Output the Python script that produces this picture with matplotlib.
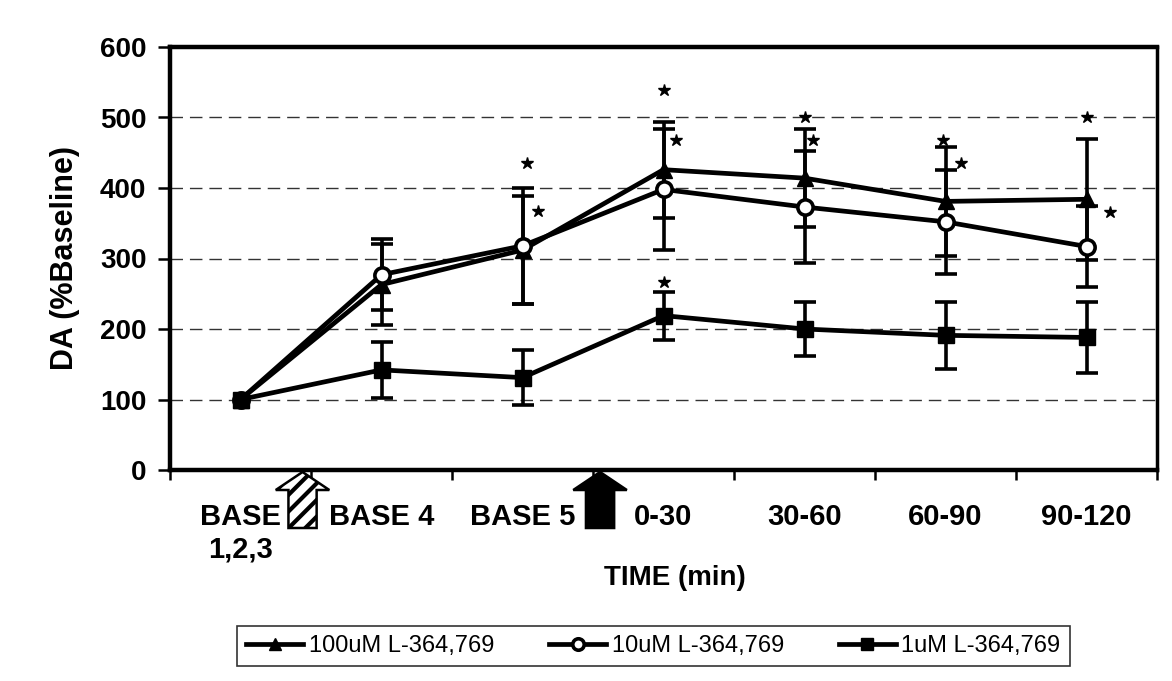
import matplotlib
matplotlib.use("Agg")
import matplotlib.pyplot as plt
import matplotlib.transforms as mtransforms
from matplotlib.patches import FancyArrow
import numpy as np

plt.rcParams['font.family'] = ['Liberation Sans', 'DejaVu Sans']
plt.rcParams['hatch.linewidth'] = 3.0

# ---------------- data ----------------
categories = ["BASE\n1,2,3", "BASE 4", "BASE 5", "0-30", "30-60", "60-90", "90-120"]
series_names = ["100uM L-364,769", "10uM L-364,769", "1uM L-364,769"]
m100 = [100, 263, 312, 426, 414, 381, 384]
e100 = [0, 57, 77, 68, 70, 77, 86]
m10 = [100, 277, 318, 398, 373, 352, 317]
e10 = [0, 50, 82, 86, 79, 74, 57]
m1 = [100, 142, 131, 219, 200, 191, 188]
e1 = [0, 40, 39, 34, 39, 48, 51]
# significance stars (category position, value)
star_x = [2.03, 2.11, 3.00, 3.09, 3.00, 4.00, 4.06, 4.98, 5.11, 6.00, 6.17]
star_y = [436, 367, 539, 468, 266, 500, 468, 468, 435, 500, 366]
yticks = [0, 100, 200, 300, 400, 500, 600]
# drug application arrows (category position)
arrow_hatched_x = 0.44
arrow_solid_x = 2.55

# ---------------- figure ----------------
W, H = 1172, 681
fig = plt.figure(figsize=(W / 100, H / 100), dpi=100)
ax = fig.add_axes([170 / W, 1 - 470 / H, (1157 - 170) / W, (470 - 47) / H])

x = np.arange(len(categories))
common = dict(color='black', lw=3.4, elinewidth=2.6, capsize=8, capthick=2.6,
              errorevery=(1, 1), clip_on=False)
c100 = ax.errorbar(x, m100, yerr=e100, marker='^', ms=12, mfc='black', mec='black',
                   label=series_names[0], zorder=3, **common)
c10 = ax.errorbar(x, m10, yerr=e10, marker='o', ms=11, mfc='white', mec='black', mew=2.6,
                  label=series_names[1], zorder=4, **common)
c1 = ax.errorbar(x, m1, yerr=e1, marker='s', ms=12, mfc='black', mec='black',
                 label=series_names[2], zorder=5, **common)

ax.plot(star_x, star_y, linestyle='none', marker='*', ms=9, color='black', zorder=6)

ax.set_xlim(-0.5, len(categories) - 0.5)
ax.set_ylim(0, 600)
ax.set_yticks(yticks)
ax.set_yticklabels([str(v) for v in yticks], fontsize=20, fontweight='bold')
ax.set_xticks(x)
ax.set_xticklabels(categories, fontsize=21, fontweight='bold', linespacing=1.2)
ax.set_xticks(np.arange(-0.5, len(categories)), minor=True)
ax.tick_params(axis='x', which='major', length=0, pad=24)
ax.tick_params(axis='x', which='minor', length=7, width=1.8, direction='out')
ax.tick_params(axis='y', length=9, width=1.8, direction='out', pad=8)

for v in yticks[1:-1]:
    ax.axhline(v, color='#333333', lw=1.0, ls=(0, (9, 5)), zorder=1)

for s in ax.spines.values():
    s.set_linewidth(3.2)
ax.spines['right'].set_linewidth(2.5)

ax.set_ylabel("DA (%Baseline)", fontsize=22, fontweight='bold', labelpad=14)
ax.set_xlabel("TIME (min)", fontsize=20, fontweight='bold')
ax.xaxis.set_label_coords((675 - 170) / (1157 - 170), -(578 - 470) / (470 - 47))
ax.xaxis.label.set_va('center')

# arrows below the axis (x in data, y in axes fraction)
trans = mtransforms.blended_transform_factory(ax.transData, ax.transAxes)
ax_h = 423.0
for xa, hatched in [(arrow_hatched_x, True), (arrow_solid_x, False)]:
    arr = FancyArrow(xa, -58 / ax_h, 0, 56 / ax_h, width=0.2, head_width=0.38,
                     head_length=18 / ax_h, length_includes_head=True,
                     transform=trans, clip_on=False,
                     facecolor='white' if hatched else 'black', edgecolor='black',
                     lw=1.8, hatch='//' if hatched else None, zorder=5)
    ax.add_patch(arr)

leg = ax.legend(handles=[c100[0], c10[0], c1[0]], labels=series_names,
                loc='center', ncol=3, mode='expand',
                bbox_to_anchor=(237 / W, 1 - 673 / H, 833 / W, 54 / H),
                bbox_transform=fig.transFigure, fontsize=17, frameon=True,
                fancybox=False, edgecolor='black', handlelength=2.4,
                handletextpad=0.25, columnspacing=0.5, borderpad=0.4,
                borderaxespad=0, markerscale=0.75)
leg.get_frame().set_linewidth(1.2)

fig.savefig("out.png", dpi=100, facecolor='white')
